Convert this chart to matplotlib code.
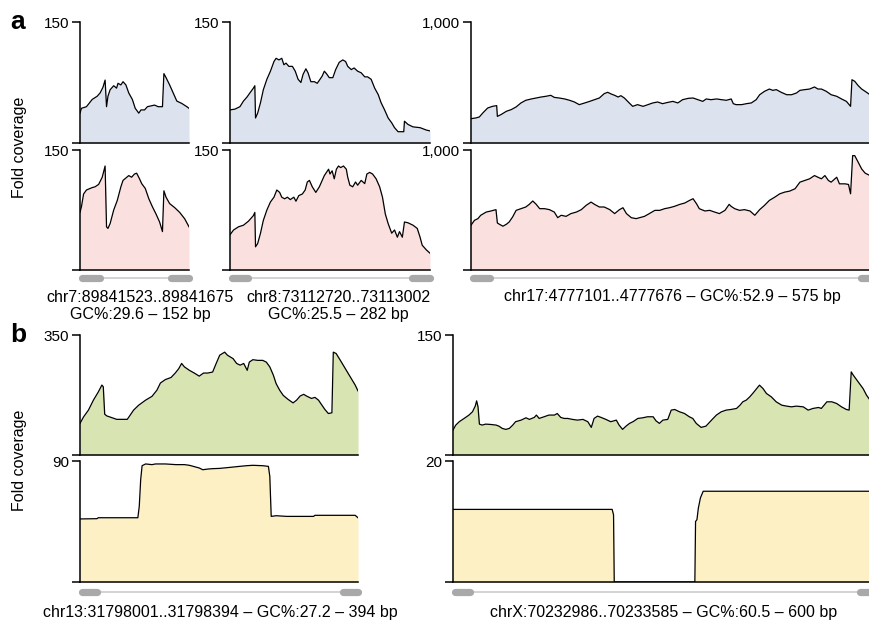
import matplotlib.pyplot as plt

plt.rcParams['font.family'] = ['Liberation Sans', 'DejaVu Sans']

# ---- panel a, amplicon 1 (chr7, 152 bp)
a1_top_x = [0, 2, 9, 17, 24, 28, 32, 35, 37, 39, 42, 47, 51, 53, 57, 60, 64, 68, 73, 77, 82, 85,
            90, 94, 99, 104, 109, 115, 117, 120, 125, 130, 135, 142, 149, 152]
a1_top_y = [37, 43, 45, 54, 58, 62, 69, 78, 45, 58, 66, 71, 68, 74, 72, 76, 72, 62, 54, 43, 37, 41,
            41, 45, 46, 47, 45, 45, 86, 81, 72, 62, 52, 49, 45, 43]
a1_bot_x = [0, 2, 5, 9, 17, 21, 26, 31, 35, 37, 39, 42, 47, 52, 57, 60, 64, 68, 72, 76, 79, 83, 86,
            91, 96, 101, 106, 111, 115, 117, 120, 125, 132, 139, 146, 152]
a1_bot_y = [72, 79, 95, 100, 103, 104, 107, 116, 130, 54, 52, 58, 75, 87, 104, 112, 115, 118, 116,
            120, 121, 114, 108, 102, 89, 79, 70, 60, 48, 99, 91, 83, 78, 72, 64, 54]

# ---- panel a, amplicon 2 (chr8, 282 bp)
a2_top_x = [0, 7, 14, 19, 24, 28, 33, 35, 36, 39, 43, 47, 52, 57, 62, 65, 69, 73, 76, 79, 83, 88,
            92, 96, 100, 103, 107, 110, 114, 119, 123, 127, 130, 133, 136, 140, 145, 149, 154, 159,
            163, 166, 171, 175, 180, 185, 190, 194, 199, 204, 209, 213, 218, 223, 228, 232, 237,
            242, 245, 246, 251, 258, 268, 277, 282]
a2_top_y = [41, 42, 45, 52, 57, 62, 68, 71, 31, 37, 50, 66, 79, 89, 101, 105, 103, 105, 97, 99, 95,
            95, 89, 79, 75, 85, 92, 87, 76, 76, 74, 79, 83, 89, 86, 81, 81, 91, 100, 103, 101, 95,
            91, 93, 89, 87, 82, 82, 79, 68, 60, 50, 41, 31, 25, 19, 14, 14, 14, 27, 23, 20, 19,
            16, 15]
a2_bot_x = [0, 5, 12, 19, 26, 33, 35, 36, 39, 43, 47, 52, 57, 62, 66, 70, 73, 77, 81, 85, 90, 93,
            97, 102, 106, 109, 112, 116, 121, 126, 129, 133, 136, 139, 141, 144, 147, 150, 153,
            156, 160, 164, 166, 169, 173, 177, 180, 185, 190, 193, 197, 201, 206, 211, 215, 219,
            223, 228, 232, 236, 239, 243, 246, 251, 258, 264, 268, 271, 277, 282]
a2_bot_y = [44, 50, 54, 56, 61, 68, 72, 29, 33, 46, 62, 75, 85, 91, 100, 97, 91, 89, 91, 88, 91,
            86, 93, 95, 100, 110, 112, 104, 97, 104, 110, 118, 122, 126, 120, 124, 114, 126, 130,
            128, 130, 126, 116, 106, 104, 110, 106, 112, 108, 120, 122, 120, 114, 104, 91, 70, 58,
            46, 50, 41, 48, 41, 60, 59, 56, 52, 41, 31, 25, 21]

# ---- panel a, amplicon 3 (chr17, 575 bp)
a3_top_x = [0, 7, 12, 17, 24, 31, 37, 38, 43, 51, 58, 65, 72, 79, 87, 94, 101, 108, 115, 120, 127,
            135, 142, 149, 156, 164, 171, 178, 185, 192, 197, 202, 207, 212, 216, 221, 228, 233,
            240, 248, 255, 262, 269, 276, 284, 291, 298, 305, 313, 320, 327, 334, 339, 346, 354,
            361, 368, 375, 378, 382, 390, 397, 404, 411, 416, 423, 430, 435, 440, 447, 455, 462,
            469, 474, 481, 488, 495, 500, 505, 512, 519, 527, 534, 541, 547, 549, 553, 558, 563,
            568, 575]
a3_top_y = [201, 207, 215, 248, 289, 303, 309, 220, 234, 262, 276, 298, 331, 353, 364, 372, 380,
            386, 394, 377, 372, 364, 353, 339, 317, 331, 344, 358, 372, 408, 419, 405, 394, 380,
            391, 372, 331, 303, 317, 303, 317, 331, 339, 325, 336, 344, 331, 358, 369, 372, 358,
            344, 364, 358, 364, 358, 353, 364, 325, 317, 317, 325, 331, 358, 399, 427, 446, 435,
            441, 419, 399, 399, 413, 435, 441, 446, 463, 446, 446, 427, 399, 386, 364, 344, 303,
            523, 510, 474, 446, 427, 399]
a3_bot_x = [0, 5, 10, 14, 22, 29, 36, 38, 41, 46, 51, 55, 60, 65, 72, 79, 84, 89, 94, 99, 106,
            113, 120, 125, 130, 137, 144, 152, 159, 166, 173, 178, 185, 192, 200, 207, 214, 219,
            224, 231, 238, 243, 250, 257, 265, 272, 279, 286, 293, 301, 308, 315, 320, 325, 329,
            337, 344, 351, 358, 366, 372, 375, 380, 387, 394, 402, 409, 416, 423, 430, 438, 445,
            452, 459, 467, 474, 481, 488, 495, 500, 505, 510, 515, 519, 527, 531, 539, 544, 547,
            550, 553, 558, 563, 568, 575]
a3_bot_y = [373, 414, 428, 456, 483, 492, 503, 392, 381, 365, 381, 400, 442, 497, 511, 525, 547,
            575, 547, 511, 511, 503, 483, 436, 456, 447, 470, 483, 503, 539, 566, 547, 525, 525,
            503, 470, 503, 519, 470, 436, 428, 436, 447, 470, 497, 497, 511, 519, 530, 547, 558,
            580, 594, 552, 511, 492, 497, 483, 470, 497, 547, 530, 511, 497, 503, 492, 456, 503,
            539, 580, 608, 635, 649, 657, 677, 732, 746, 760, 787, 773, 760, 787, 746, 732, 773,
            718, 718, 713, 635, 953, 953, 898, 842, 807, 787]

# ---- panel b, amplicon 1 (chr13, 394 bp)
b1_top_x = [0, 5, 12, 19, 26, 31, 33, 35, 38, 45, 52, 60, 67, 71, 76, 83, 93, 102, 109, 114, 121,
            129, 135, 140, 144, 148, 155, 162, 169, 175, 181, 188, 193, 198, 205, 209, 217, 222,
            227, 232, 237, 240, 245, 252, 259, 264, 269, 274, 278, 283, 288, 295, 302, 307, 312,
            317, 321, 328, 333, 338, 343, 347, 352, 357, 359, 363, 369, 376, 383, 390, 394]
b1_top_y = [92, 111, 131, 160, 184, 204, 199, 119, 114, 109, 104, 104, 104, 116, 131, 145, 160,
            171, 189, 210, 220, 226, 239, 252, 267, 257, 247, 239, 230, 239, 239, 242, 267, 291,
            300, 291, 281, 267, 262, 267, 247, 271, 278, 276, 276, 271, 257, 233, 208, 189, 174,
            162, 152, 160, 172, 177, 172, 165, 168, 160, 145, 133, 121, 123, 300, 296, 276, 252,
            228, 204, 187]
b1_bot_x = [0, 24, 26, 82, 84, 86, 88, 93, 102, 107, 121, 136, 148, 155, 169, 174, 181, 188, 198,
            217, 226, 236, 245, 259, 267, 269, 271, 278, 293, 331, 333, 390, 394]
b1_bot_y = [46.9, 47.1, 47.8, 47.8, 56.3, 76.1, 86.5, 87.8, 87.3, 87.8, 87.8, 87.3, 87.3, 86.8,
            84.8, 83.5, 84.0, 84.3, 84.5, 85.5, 86.0, 86.5, 86.8, 86.5, 86.0, 78.6, 48.8, 49.3,
            48.8, 48.8, 49.6, 49.6, 47.8]

# ---- panel b, amplicon 2 (chrX, 600 bp)
b2_top_x = [0, 4, 9, 16, 23, 28, 32, 34, 36, 38, 42, 47, 54, 62, 66, 71, 76, 81, 86, 90, 98, 105,
            110, 117, 120, 124, 131, 138, 146, 150, 155, 160, 165, 172, 179, 187, 194, 199, 203,
            208, 213, 220, 227, 235, 239, 244, 249, 254, 259, 266, 273, 280, 288, 292, 297, 302,
            309, 314, 319, 326, 333, 340, 345, 350, 357, 364, 372, 379, 386, 393, 400, 408, 413,
            417, 422, 427, 432, 437, 441, 446, 451, 458, 465, 473, 480, 487, 494, 504, 511, 518,
            526, 530, 538, 545, 552, 559, 566, 570, 573, 576, 583, 590, 595, 600]
b2_top_y = [31.2, 37.4, 41.6, 45.7, 49.9, 54.0, 61.1, 67.7, 60.2, 38.6, 37.4, 38.6, 38.2, 37.4,
            36.1, 33.2, 32.0, 33.2, 37.4, 41.6, 43.6, 46.5, 44.5, 47.0, 49.9, 45.7, 47.8, 49.9,
            49.9, 51.9, 47.0, 45.7, 45.7, 44.5, 43.6, 44.5, 41.6, 34.5, 45.7, 48.6, 47.0, 44.5,
            41.6, 43.6, 37.4, 32.0, 36.1, 39.5, 41.6, 45.7, 46.5, 47.8, 47.8, 42.8, 39.5, 43.6,
            44.5, 56.1, 56.9, 54.0, 51.9, 47.8, 45.7, 39.5, 34.5, 36.1, 43.6, 49.9, 54.0, 56.1,
            56.9, 58.2, 62.3, 66.5, 68.6, 72.7, 77.7, 83.1, 87.3, 83.1, 76.9, 72.7, 66.5, 62.3,
            61.1, 60.2, 61.1, 60.2, 56.1, 58.2, 59.4, 58.2, 66.5, 66.5, 64.4, 60.2, 56.9, 56.1,
            103.9, 99.7, 91.4, 83.1, 74.8, 68.6]
b2_bot_x = [0, 229, 231, 232, 348, 349, 351, 353, 356, 360, 600]
b2_bot_y = [12.0, 12.0, 11.1, 0, 0, 10.0, 10.3, 12.2, 13.9, 15.0, 15.0]

# primer positions (bp) drawn on the amplicon track
a1_primers = [(0, 25), (127, 152)]
a2_primers = [(0, 23), (256, 282)]
a3_primers = [(0, 24), (562, 575)]
b1_primers = [(0, 21), (373, 394)]
b2_primers = [(0, 22), (586, 600)]

a_labels = ['chr7:89841523..89841675\nGC%:29.6 \u2013 152 bp',
            'chr8:73112720..73113002\nGC%:25.5 \u2013 282 bp',
            'chr17:4777101..4777676 \u2013 GC%:52.9 \u2013 575 bp']
b_labels = ['chr13:31798001..31798394 \u2013 GC%:27.2 \u2013 394 bp',
            'chrX:70232986..70233585 \u2013 GC%:60.5 \u2013 600 bp']

BLUE, PINK = '#dce3ef', '#fbe0e0'
GREEN, YELLOW = '#d8e5b3', '#fdf0c4'

W, H = 870, 621
fig = plt.figure(figsize=(W / 100, H / 100), dpi=100)


def px_axes(left, top, right, bottom):
    return fig.add_axes([left / W, 1 - bottom / H, (right - left) / W, (bottom - top) / H])


def coverage(ax, x, y, ymax, ylabel, color):
    ax.fill_between(x, y, 0, color=color, lw=0)
    ax.plot(x, y, color='black', lw=0.9)
    ax.set_xlim(x[0], x[-1])
    ax.set_ylim(0, ymax)
    for s in ['top', 'right']:
        ax.spines[s].set_visible(False)
    for s in ['left', 'bottom']:
        ax.spines[s].set_linewidth(1.1)
    ax.set_xticks([])
    ax.set_yticks([0, ymax])
    ax.set_yticklabels(['', ylabel])
    ax.tick_params(axis='y', length=6, width=1.1, labelsize=11, pad=2)
    ax.patch.set_alpha(0)


def track(left, right, y, length, primers):
    ax = px_axes(left, y - 6, right, y + 6)
    ax.set_xlim(0, length)
    ax.set_ylim(-1, 1)
    ax.axis('off')
    ax.plot([0, length], [0, 0], color='#c8c8c8', lw=1.1, clip_on=False)
    for p0, p1 in primers:
        ax.plot([p0, p1], [0, 0], color='#a9a9a9', lw=5.2, solid_capstyle='round', clip_on=False)


# panel a
a_cols = [(80, 189, a1_top_x, a1_top_y, a1_bot_x, a1_bot_y, 150, '150', a1_primers, 152),
          (230, 430, a2_top_x, a2_top_y, a2_bot_x, a2_bot_y, 150, '150', a2_primers, 282),
          (471, 870, a3_top_x, a3_top_y, a3_bot_x, a3_bot_y, 1000, '1,000', a3_primers, 575)]
for i, (l, r, tx, ty, bx, by, ymax, lab, prim, n) in enumerate(a_cols):
    coverage(px_axes(l, 22, r, 143), tx, ty, ymax, lab, BLUE)
    coverage(px_axes(l, 150, r, 270), bx, by, ymax, lab, PINK)
    track(l + 2, r, 278, n, prim)

fig.text(140 / W, 1 - 306 / H, a_labels[0], ha='center', va='center', fontsize=11.5, linespacing=1.25)
fig.text(338 / W, 1 - 306 / H, a_labels[1], ha='center', va='center', fontsize=11.5, linespacing=1.25)
fig.text(672 / W, 1 - 297 / H, a_labels[2], ha='center', va='center', fontsize=11.5)

# panel b
b_cols = [(80, 358, b1_top_x, b1_top_y, b1_bot_x, b1_bot_y, 350, '350', 90, '90', b1_primers, 394),
          (453, 870, b2_top_x, b2_top_y, b2_bot_x, b2_bot_y, 150, '150', 20, '20', b2_primers, 600)]
for l, r, tx, ty, bx, by, tmax, tlab, bmax, blab, prim, n in b_cols:
    coverage(px_axes(l, 335, r, 455), tx, ty, tmax, tlab, GREEN)
    coverage(px_axes(l, 461, r, 582), bx, by, bmax, blab, YELLOW)
    track(l + 2, r, 592, n, prim)

fig.text(220 / W, 1 - 613 / H, b_labels[0], ha='center', va='center', fontsize=11.5)
fig.text(664 / W, 1 - 613 / H, b_labels[1], ha='center', va='center', fontsize=11.5)

fig.text(20 / W, 1 - 147 / H, 'Fold coverage', rotation=90, ha='center', va='center', fontsize=11.5)
fig.text(20 / W, 1 - 460 / H, 'Fold coverage', rotation=90, ha='center', va='center', fontsize=11.5)
fig.text(10 / W, 1 - 22 / H, 'a', fontsize=19, fontweight='bold', ha='left', va='center')
fig.text(10 / W, 1 - 335 / H, 'b', fontsize=19, fontweight='bold', ha='left', va='center')

fig.savefig('out.png', dpi=100)
